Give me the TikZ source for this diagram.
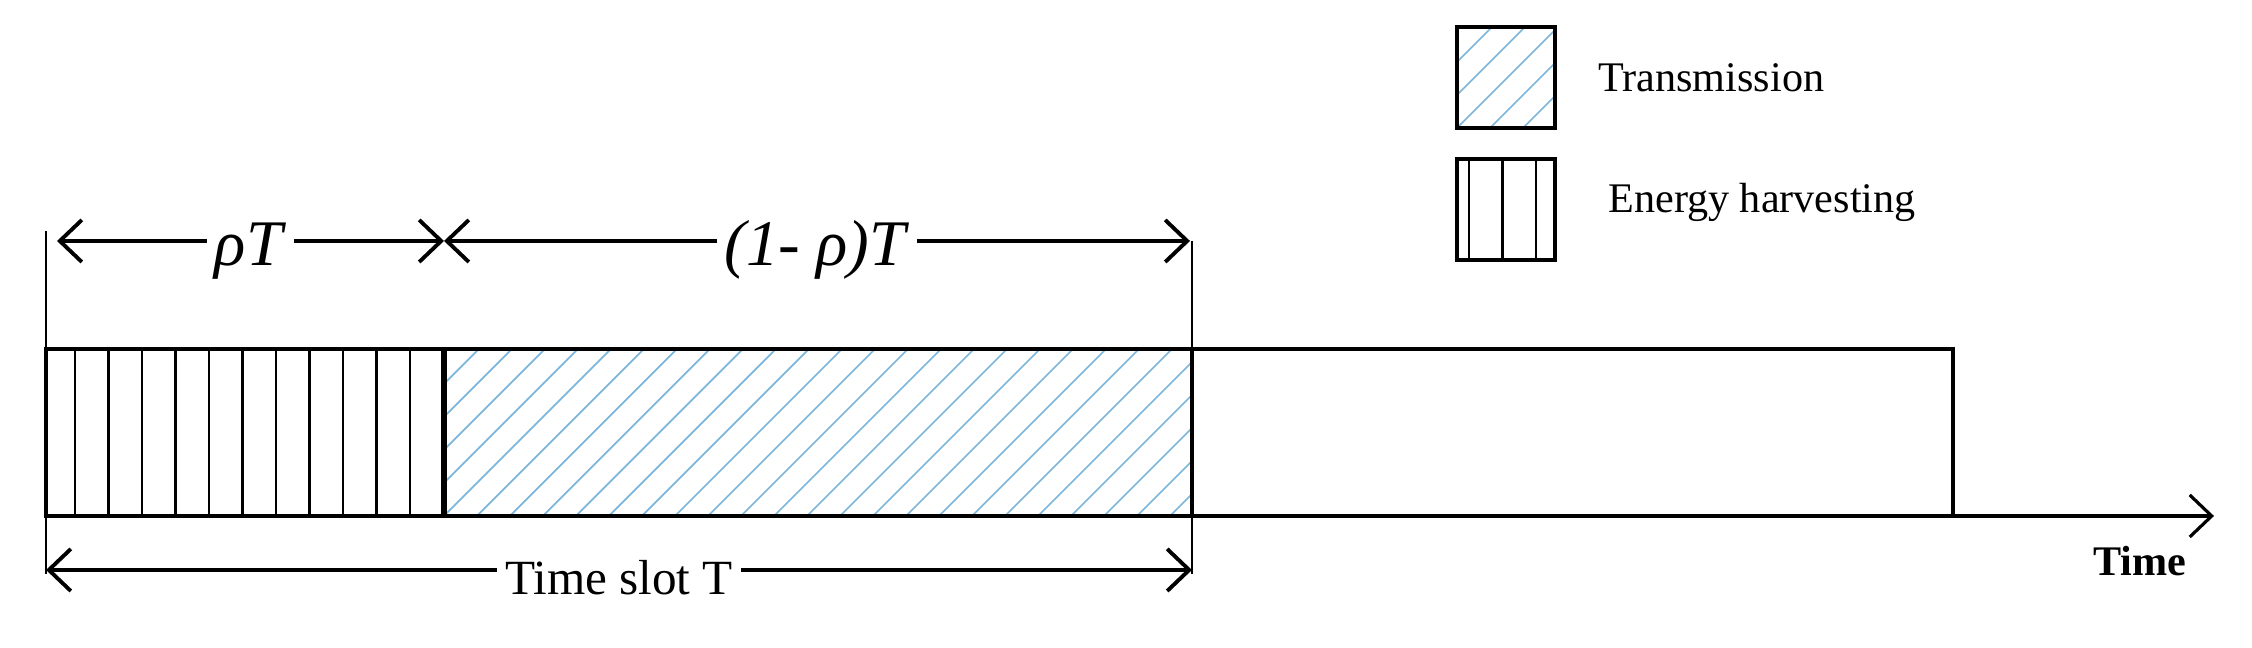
\documentclass[tikz,border=0pt]{standalone}
\usepackage{fontspec}
\setmainfont{Liberation Serif}
\usetikzlibrary{arrows.meta, positioning}

\definecolor{hatchblue}{RGB}{125,182,220}

\begin{document}
\begin{tikzpicture}[
    thick,
    slot/.style={draw, line width=1.2pt, rectangle, inner sep=0pt, outer sep=0pt,
        minimum height=1.67cm, anchor=south west},
    keybox/.style={slot, minimum width=0.98cm, minimum height=1.01cm},
    harvest/.style={path picture={
        \foreach \k in {0,...,13}
            \draw[line width=0.8pt] ([xshift={#1cm+\k*3.35mm}]path picture bounding box.south west) -- ++(0,2cm);
    }},
    transmit/.style={path picture={
        \foreach \k in {-6,...,24}
            \draw[hatchblue, line width=0.5pt] ([xshift={\k*3.3mm}]path picture bounding box.south west) -- ++(2cm,2cm);
    }},
    dim/.style={line width=1.1pt,
        {Straight Barb[length=2.2mm, width=4.2mm]}-{Straight Barb[length=2.2mm, width=4.2mm]}},
    ext/.style={line width=0.7pt},
    lbl/.style={fill=white, inner xsep=0.8mm, inner ysep=0pt, anchor=base, yshift=-0.25cm},
    legtext/.style={inner sep=0pt, anchor=west, font=\fontsize{12}{14}\selectfont}
]

\useasboundingbox (0,0) rectangle (22.52,6.48);

% time slot
\node[slot, harvest=0.29, minimum width=3.98cm] (eh) at (0.46,1.32) {};
\node[slot, transmit, minimum width=7.48cm, right=0cm of eh] (tx) {};
\node[slot, minimum width=7.61cm, right=0cm of tx] (idle) {};
\draw[line width=1.7pt] (eh.north east) -- (eh.south east);

\coordinate (tEnd) at (22.14,1.32);
\draw[line width=0.9pt, -{Straight Barb[length=2.2mm, width=4.2mm]}] (eh.south west) -- (tEnd);
\node[inner sep=0pt, font=\bfseries\fontsize{12}{14}\selectfont] (time) at (21.40,0.87) {Time};

% dimension lines
\coordinate (tL) at (0.57,4.07);
\coordinate (tM) at (4.44,4.07);
\coordinate (tR) at (11.90,4.07);
\coordinate (bL) at (0.46,0.78);
\coordinate (bR) at (11.92,0.78);
\coordinate (eL1) at (0.46,4.17);
\coordinate (eL2) at (0.46,0.74);
\coordinate (eR1) at (11.92,4.07);
\coordinate (eR2) at (11.92,0.74);

\draw[ext] (eL1) -- (eL2);
\draw[ext] (eR1) -- (eR2);

\path[dim]
    (tL) edge node[lbl, font=\fontsize{18.5}{20}\selectfont] {\textit{ρT}} (tM)
    (tM) edge node[lbl, font=\fontsize{18.5}{20}\selectfont] {\textit{(1- ρ)T}} (tR)
    (bL) edge node[lbl, font=\fontsize{14}{16}\selectfont] {Time slot T} (bR)
    ;

% legend
\node[keybox, transmit] (keyT) at (14.57,5.20) {};
\node[keybox, harvest=0.12, below=0.31cm of keyT] (keyE) {};
\node[legtext, right=0.42cm of keyT] (txtT) {Transmission};
\node[legtext, right=0.52cm of keyE, yshift=0.07cm] (txtE) {Energy harvesting};

\end{tikzpicture}
\end{document}
